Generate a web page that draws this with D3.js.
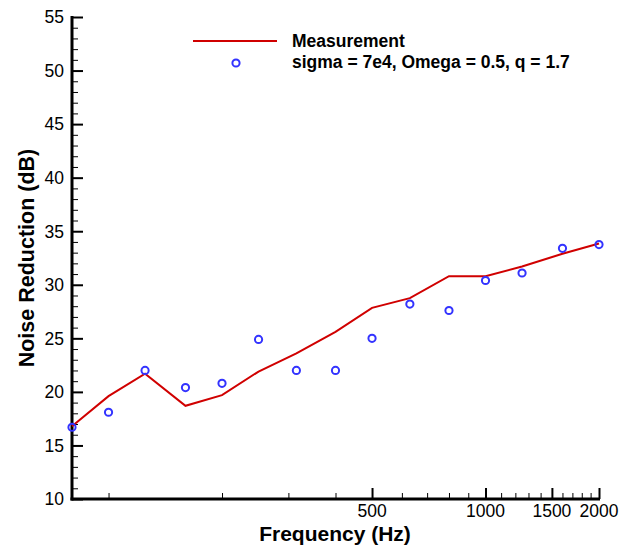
<!DOCTYPE html>
<html>
<head>
<meta charset="UTF-8">
<script src="https://d3js.org/d3.v7.min.js"></script>
<style>
  * { margin: 0; padding: 0; }
  body { background: #fff; font-family: "Liberation Sans", Arial, sans-serif; }
</style>
</head>
<body>
<div id="chart"></div>
<script>
const freqs = [80, 100, 125, 160, 200, 250, 315, 400, 500, 630, 800, 1000, 1250, 1600, 2000];
const measurement = [16.8, 19.6, 21.7, 18.7, 19.7, 21.9, 23.6, 25.6, 27.85, 28.75, 30.8, 30.8, 31.7, 32.9, 33.85];
const model = [16.7, 18.1, 22.0, 20.4, 20.8, 24.9, 22.0, 22.0, 25.0, 28.2, 27.6, 30.4, 31.1, 33.4, 33.75];
const xLabels = [500, 1000, 1500, 2000];
const xMinor = [100, 200, 300, 400, 600, 700, 800, 900, 1100, 1200, 1300, 1400, 1600, 1700, 1800, 1900];
const yTicks = [10, 15, 20, 25, 30, 35, 40, 45, 50, 55];

const W = 621, H = 546;
const margin = { left: 72, right: 22, top: 17, bottom: 47 };

const svg = d3.select("#chart").append("svg")
    .attr("width", W).attr("height", H);

const x = d3.scaleLog().domain([80, 2000]).range([margin.left, W - margin.right]);
const y = d3.scaleLinear().domain([10, 55]).range([H - margin.bottom, margin.top]);

// y axis, ticks pointing inward
const yMinor = d3.range(10, 56, 1).filter(v => v % 5 !== 0);
svg.append("g")
    .attr("transform", `translate(${margin.left},0)`)
    .call(d3.axisRight(y).tickValues(yMinor).tickSize(6).tickFormat(""))
    .call(g => g.select(".domain").remove())
    .selectAll("line").attr("stroke", "#000").attr("stroke-width", 1);

svg.append("g")
    .attr("transform", `translate(${margin.left},0)`)
    .call(d3.axisRight(y).tickValues(yTicks).tickSize(11).tickFormat(""))
    .call(g => g.select(".domain").remove())
    .selectAll("line").attr("stroke", "#000").attr("stroke-width", 2);

svg.selectAll(".ylab")
    .data(yTicks)
    .join("text")
    .attr("x", margin.left - 8)
    .attr("y", d => y(d))
    .attr("dy", "0.36em")
    .attr("text-anchor", "end")
    .style("font-size", "17.5px")
    .text(d => d);

// x axis, ticks pointing inward
svg.append("g")
    .attr("transform", `translate(0,${y(10)})`)
    .call(d3.axisTop(x).tickValues(xMinor).tickSize(6).tickFormat(""))
    .call(g => g.select(".domain").remove())
    .selectAll("line").attr("stroke", "#000").attr("stroke-width", 1);

svg.append("g")
    .attr("transform", `translate(0,${y(10)})`)
    .call(d3.axisTop(x).tickValues(xLabels).tickSize(11).tickFormat(""))
    .call(g => g.select(".domain").remove())
    .selectAll("line").attr("stroke", "#000").attr("stroke-width", 2);

svg.selectAll(".xlab")
    .data(xLabels)
    .join("text")
    .attr("x", d => x(d))
    .attr("y", y(10) + 18)
    .attr("text-anchor", "middle")
    .style("font-size", "17.5px")
    .text(d => d);

// axis lines
svg.append("line")
    .attr("x1", margin.left).attr("x2", margin.left)
    .attr("y1", y(55) - 1).attr("y2", y(10) + 1.5)
    .attr("stroke", "#000").attr("stroke-width", 3);
svg.append("line")
    .attr("x1", margin.left - 1.5).attr("x2", x(2000) + 1)
    .attr("y1", y(10)).attr("y2", y(10))
    .attr("stroke", "#000").attr("stroke-width", 3);

// titles
svg.append("text")
    .attr("x", 335).attr("y", 541)
    .attr("text-anchor", "middle")
    .style("font-size", "21px").style("font-weight", "bold")
    .text("Frequency (Hz)");

svg.append("text")
    .attr("transform", `translate(34,${(y(10) + y(55)) / 2}) rotate(-90)`)
    .attr("text-anchor", "middle")
    .style("font-size", "21.5px").style("font-weight", "bold")
    .text("Noise Reduction (dB)");

// series
const line = d3.line()
    .x((d, i) => x(freqs[i]))
    .y(d => y(d));

svg.append("path")
    .datum(measurement)
    .attr("fill", "none")
    .attr("stroke", "#d00000")
    .attr("stroke-width", 2)
    .attr("d", line);

svg.selectAll(".dot")
    .data(model)
    .join("circle")
    .attr("cx", (d, i) => x(freqs[i]))
    .attr("cy", d => y(d))
    .attr("r", 3.6)
    .attr("fill", "none")
    .attr("stroke", "#3333ff")
    .attr("stroke-width", 2);

// legend
const legend = svg.append("g");
legend.append("line")
    .attr("x1", 193).attr("x2", 277).attr("y1", 41).attr("y2", 41)
    .attr("stroke", "#d00000").attr("stroke-width", 2);
legend.append("circle")
    .attr("cx", 236).attr("cy", 63).attr("r", 3.6)
    .attr("fill", "none").attr("stroke", "#3333ff").attr("stroke-width", 2);
legend.append("text")
    .attr("x", 292).attr("y", 47)
    .style("font-size", "17.5px").style("font-weight", "bold")
    .text("Measurement");
legend.append("text")
    .attr("x", 292).attr("y", 68)
    .style("font-size", "17.5px").style("font-weight", "bold")
    .text("sigma = 7e4, Omega = 0.5, q = 1.7");
</script>
</body>
</html>
